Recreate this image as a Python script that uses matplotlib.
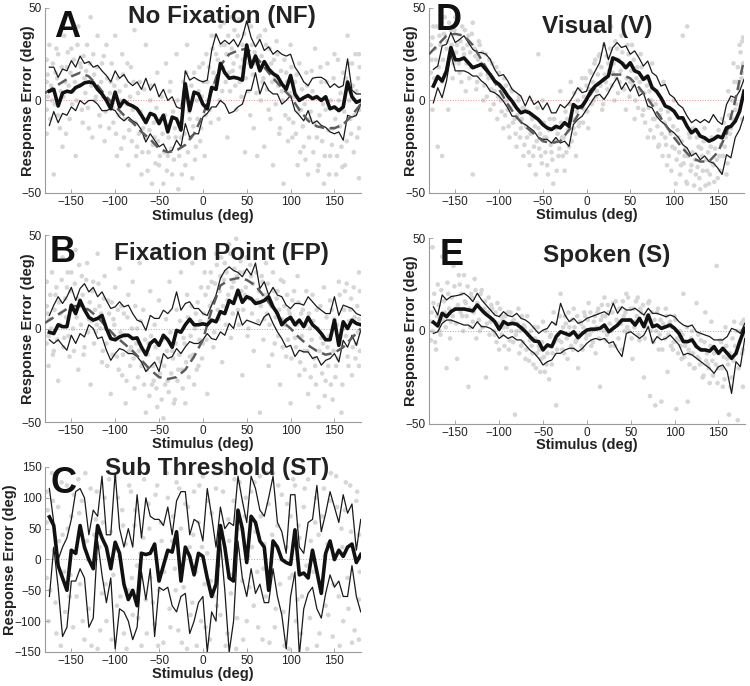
import matplotlib
matplotlib.use('Agg')
import matplotlib.pyplot as plt

plt.rcParams['font.family'] = ['Liberation Sans', 'DejaVu Sans']

# stimulus bins for the running mean / CI lines, and for the model curve
stim_bins = list(range(-175, 181, 5))
model_x = list(range(-180, 181, 10))
x_ticks = [-150, -100, -50, 0, 50, 100, 150]

# ---- A: No Fixation (NF) ----
nf_mean = [5, 6, -3, 4, 5, 4.5, 7, 8, 9.5, 10, 9.5, 6,
           3.5, 0, -4.5, 4.5, -3.5, 0, -2, -3, -4.5, -8, -12, -7,
           -8, -12.5, -8, -17, -9, -10, -16, 9, -5.5, 4.5, 3.5, -2,
           -4.5, 7, 6, 20, 15, 12, 12.5, 12, 11, 30, 18, 24,
           16, 21, 17, 14.5, 13, 9, 6, 13.5, 3.5, 0, 1.5, 2.7,
           1, 2, 0, 2, -4.5, -3.5, -5.5, -3.5, 10, 2, -1, 0]
nf_upper = [18, 18, 12.5, 17, 16, 21.5, 18, 24, 20, 21, 18, 19,
            16, 13.5, 10, 16, 12, 14, 10, 8, 10, 6, 12, 5.5,
            9, 2, 6, 0, 2, -3.5, -4.5, 16, 11, 12.5, 11, 10,
            11, 27, 36, 30.5, 32.5, 30.5, 33, 29, 34, 43, 34, 29,
            33, 27, 29, 25, 27, 25, 24, 25, 18, 14.5, 10, 8,
            12, 12.5, 12.5, 11, 7, 9, 7, 8, 22.5, 5.5, 3.5, 3.5]
nf_lower = [-13.5, -6, -12, -7, -8, -3.5, -5.5, 0, -2, 0, 0, -2,
            -5.5, -5.5, -4.5, -5.5, -9, -11, -9, -11, -12.5, -16, -22.5, -18,
            -21.5, -25, -23.5, -28, -27, -21.5, -25, -12.5, -20, -18, -18, -9,
            -7, -3.5, -3.5, 0, -2, -7, -6, -3.5, -2, 5.5, 5.5, 15,
            3.5, 10, 5.5, 3.5, 3.5, -2, 0, 2.7, -5.5, -8, -11, -5.5,
            -12.5, -11, -13.5, -14.5, -17, -18, -17, -21.5, -8, -9, -8, -2]
nf_model = [4, 7, 10, 13, 15, 13, 8, 2, -3, -8, -12, -17, -21, -26, -28, -27,
            -24, -18, -8, 5, 19, 25, 27, 28, 24, 18, 12, 7, 2, -5, -11, -14,
            -15, -15, -13, -8, -2]
nf_dots = [(-178, 22), (-178, 10), (-178, -5), (-178, -18), (-175, 30), (-172, 0),
           (-170, -40), (-168, 15), (-165, 25), (-165, -8), (-162, 5), (-160, -25),
           (-158, 35), (-155, 18), (-152, -10), (-150, 28), (-148, 5), (-145, -30),
           (-142, 40), (-140, 20), (-138, -5), (-135, 12), (-132, 30), (-130, -15),
           (-128, 45), (-125, 25), (-122, 2), (-120, 35), (-118, -8), (-115, 20),
           (-112, -22), (-110, 30), (-105, 10), (-102, -12), (-100, 35), (-98, -30),
           (-95, 5), (-92, 25), (-90, -20), (-88, 8), (-85, -35), (-82, 18),
           (-80, -5), (-78, 38), (-75, -25), (-72, 10), (-70, -40), (-68, -15),
           (-65, 30), (-62, -28), (-60, 0), (-58, -45), (-55, -20), (-52, 15),
           (-50, -35), (-48, -10), (-45, -45), (-42, 20), (-40, -30), (-38, 5),
           (-35, -40), (-32, -15), (-30, 25), (-28, -48), (-25, -20), (-22, 10),
           (-20, -35), (-18, 30), (-15, -10), (-12, -42), (-10, 15), (-8, -25),
           (-5, 5), (-2, -15), (0, 20), (2, -30), (5, 10), (8, -5), (10, 35),
           (12, 15), (15, 25), (18, -10), (20, 40), (22, 5), (25, 30), (28, -20),
           (30, 15), (32, 45), (35, 20), (38, -5), (40, 35), (42, 10), (45, 30),
           (48, -28), (50, 25), (52, 5), (55, 40), (58, -15), (60, 20), (62, -30),
           (65, 35), (68, 10), (70, -25), (72, 30), (75, -5), (78, 20), (80, -35),
           (82, 12), (85, 25), (88, -15), (90, 5), (92, -45), (95, 15), (98, -10),
           (100, 30), (102, -20), (105, 10), (108, -35), (110, 20), (112, -5),
           (115, -25), (118, 15), (120, -40), (122, -10), (125, 5), (128, 28),
           (130, -20), (132, -35), (135, 10), (138, -45), (140, -5), (142, 20),
           (145, -30), (148, -15), (150, 25), (152, -40), (155, 0), (158, -25),
           (160, 15), (162, -35), (165, 35), (168, -10), (170, 20), (172, -28),
           (175, 5), (178, -42), (178, 25), (178, -15),
           (-177, 2), (-177, 14), (-174, -10), (-173, 8), (-171, 20), (-169, -2),
           (-167, 28), (-166, 12), (-163, -15), (-161, 18), (-159, 2), (-157, 10),
           (-156, -18), (-154, 26), (-153, 8), (-151, 15), (-149, -2), (-147, 22),
           (-146, 10), (-144, 0), (-143, 30), (-141, 8), (-139, 18), (-137, -12),
           (-136, 24), (-134, 4), (-133, 16), (-131, -4), (-129, 20), (-127, 8),
           (-126, -20), (-124, 14), (-123, 0), (-121, 18), (-119, 6), (-117, -14),
           (-116, 10), (-114, 2), (-113, 24), (-111, -6), (-109, 12), (-107, -15),
           (-106, 4), (-104, 20), (-103, -4), (-101, 8), (-99, -18), (-97, 12),
           (-96, -8), (-94, 0), (-93, -26), (-91, 14), (-89, -10), (-87, -2),
           (-86, 20), (-84, -16), (-83, 2), (-81, -22), (-79, 10), (-77, -12),
           (-76, -30), (-74, 4), (-73, -18), (-71, -6), (-69, -28), (-67, 6),
           (-66, -20), (-64, -10), (-63, -38), (-61, -16), (-59, 8), (-57, -24),
           (-56, -12), (-54, -34), (-53, -4), (-51, -22), (-49, -30), (-47, 2),
           (-46, -18), (-44, -28), (-43, -8), (-41, -38), (-39, -20), (-37, 10),
           (-36, -26), (-34, -6), (-33, -32), (-31, -20), (-29, 0), (-27, -30),
           (-26, -12), (-24, -40), (-23, -2), (-21, -18), (-19, 15), (-17, -28),
           (-16, -6), (-14, -20), (-13, 8), (-11, -14), (-9, -32), (-7, 0),
           (-6, -10), (-4, 18), (-3, -22), (-1, 2), (1, 10), (3, -8), (4, 25),
           (6, 0), (7, 18), (9, -12), (11, 28), (13, 8), (14, 35), (16, 12),
           (17, 22), (19, 0), (21, 30), (23, 18), (24, 42), (26, 10), (27, 25),
           (29, 35), (31, 5), (33, 28), (34, 16), (36, 38), (37, 8), (39, 24),
           (41, 44), (43, 18), (44, 2), (46, 22), (47, 36), (49, 12), (51, 42),
           (53, 20), (54, -8), (56, 30), (57, 14), (59, 26), (61, 4), (63, 34),
           (64, 18), (66, 0), (67, 24), (69, 12), (71, 38), (73, 6), (74, 18),
           (76, 28), (77, -10), (79, 10), (81, 22), (83, -2), (84, 32), (86, 8),
           (87, -18), (89, 16), (91, 0), (93, 22), (94, -8), (96, 10), (97, -22),
           (99, 4), (101, 18), (103, -12), (104, 2), (106, -18), (107, 14),
           (109, -6), (111, -28), (113, 6), (114, -14), (116, -2), (117, -32),
           (119, 8), (121, -20), (123, -6), (124, 16), (126, -28), (127, -12),
           (129, 2), (131, -38), (133, -8), (134, 18), (136, -22), (137, -2),
           (139, -30), (141, 10), (143, -16), (144, -40), (146, 0), (147, -24),
           (149, 12), (151, -10), (153, -30), (154, 22), (156, -14), (157, 4),
           (159, -36), (161, -6), (163, 12), (164, -22), (166, 20), (167, 0),
           (169, -18), (171, 8), (173, -8), (174, 25), (176, -20), (177, 12),
           (179, -5), (179, 18)]

# ---- B: Fixation Point (FP) ----
fp_mean = [-2, -2.7, 2, 1, 1, 12.5, 8, 15, 10, 6, 4.5, 5.4,
           7, 0, -5.4, -6, -4.5, -3.6, -3.6, -5.4, -5, -10, -14, -8,
           -6, -9, -3.6, -6, -10, -1, -2, 2, 5, 2, 2, 2.5,
           2, 4.5, 3.6, 9, 8, 15, 13.4, 20.5, 14, 17, 16, 13.4,
           14, 15, 17, 11.6, 8, 2, 4.5, 6, 2, 4.5, 1, 6,
           2, 0, -2.7, -6, -6, 4.5, -9, 3.6, 0, 4.5, 2.7, 2]
fp_upper = [7, 12.5, 17, 13.4, 17, 22, 15, 21.4, 24, 19.6, 22, 17,
            19.6, 15, 10.7, 11.6, 14.3, 11.6, 12.5, 8, 4.5, 3.6, -1, 7,
            5.4, 5.4, 9.8, 8, 10.7, 19.6, 9.8, 13.4, 14.3, 10.7, 10.7, 8,
            7, 12.5, 17.9, 26.8, 31, 33, 31, 30, 27.7, 32, 28.6, 35,
            21.4, 25, 17.9, 22, 17.9, 17, 12.5, 10.7, 13.4, 13.4, 12.5, 17,
            14.3, 11.6, 9.8, 8, 8, 17, 7, 12.5, 11.6, 10.7, 8, 7]
fp_lower = [-6, -8, -6, -9, -11.6, -3.6, -8, -2.7, -4.5, 2, 0, -5.4,
            -4.5, -11.6, -17, -13.4, -10.7, -11.6, -13.4, -13.4, -15, -17.9, -23, -20.5,
            -17.9, -23, -13.4, -16, -15, -10.7, -13.4, -9.8, -7, -8, -8, -6,
            -2.7, -5.4, -6, -1.8, -3.6, 2.7, 0, 9, 1.8, 4.5, 3.6, 2.7,
            1.8, 6.3, 8, 2.7, -1.8, -5.4, -10, -9, -15, -11.6, -12.5, -12.5,
            -16, -15, -19.6, -17, -16, -13.4, -17.9, -6.3, -10, -3.6, -9, -1]
fp_model = [3, 6, 9, 12, 12, 10, 6, 1, -4, -8, -12, -17, -22, -26, -27, -26,
            -22, -15, -6, 10, 23, 26, 27, 26, 23, 17, 11, 4, 0, -5, -9, -12,
            -14, -13, -10, -5, 0]
fp_dots = [(-178, 12), (-178, -8), (-178, 25), (-176, -20), (-175, 5), (-172, 30),
           (-170, -12), (-168, 18), (-165, -28), (-162, 8), (-160, 38), (-158, -5),
           (-155, 22), (-152, -15), (-150, 30), (-148, 0), (-145, 42), (-142, -22),
           (-140, 15), (-138, 28), (-135, -10), (-132, 35), (-130, 5), (-128, -30),
           (-125, 25), (-122, -2), (-120, 40), (-118, 12), (-115, -18), (-112, 28),
           (-110, -8), (-108, 15), (-105, -35), (-102, 5), (-100, 22), (-98, -15),
           (-95, 32), (-92, -25), (-90, 8), (-88, -40), (-85, 18), (-82, -10),
           (-80, 25), (-78, -32), (-75, 0), (-72, 35), (-70, -20), (-68, 10),
           (-65, -45), (-62, -8), (-60, 20), (-58, -30), (-55, 2), (-52, -42),
           (-50, 15), (-48, -18), (-45, -48), (-42, 5), (-40, -28), (-38, 25),
           (-35, -12), (-32, -38), (-30, 10), (-28, -22), (-25, 30), (-22, -5),
           (-20, -40), (-18, 18), (-15, -15), (-12, 35), (-10, -30), (-8, 8),
           (-5, -20), (-2, 22), (0, -8), (2, 30), (5, -35), (8, 12), (10, 25),
           (12, -10), (15, 40), (18, 5), (20, 28), (22, -18), (25, 35), (28, 15),
           (30, 45), (32, -5), (35, 25), (38, 48), (40, 10), (42, 30), (45, -25),
           (48, 18), (50, 38), (52, 0), (55, 28), (58, -12), (60, 42), (62, 15),
           (65, -45), (68, 25), (70, 5), (72, 35), (75, -20), (78, 12), (80, 30),
           (82, -8), (85, 20), (88, -30), (90, 5), (92, 25), (95, -15), (98, 10),
           (100, -40), (102, 15), (105, -5), (108, 28), (110, -25), (112, 8),
           (115, -12), (118, 20), (120, -35), (122, 0), (125, 18), (128, -20),
           (130, 10), (132, -42), (135, -5), (138, 22), (140, -28), (142, -10),
           (145, 15), (148, -38), (150, 5), (152, -20), (155, 25), (158, -45),
           (160, 0), (162, 20), (165, -15), (168, 10), (170, -25), (172, 22),
           (175, -8), (178, 30), (178, -20), (178, 5),
           (-177, 8), (-176, -4), (-174, 18), (-173, 0), (-171, -14), (-169, 10),
           (-167, 22), (-166, -6), (-164, 14), (-163, 2), (-161, 26), (-159, -10),
           (-157, 16), (-156, 6), (-154, 30), (-153, -4), (-151, 20), (-149, 10),
           (-147, -12), (-146, 24), (-144, 6), (-143, 16), (-141, 34), (-139, 2),
           (-137, 18), (-136, -14), (-134, 10), (-133, 26), (-131, -2), (-129, 14),
           (-127, 4), (-126, 20), (-124, -8), (-123, 10), (-121, 2), (-119, 24),
           (-117, 0), (-116, 8), (-114, -12), (-113, 16), (-111, 0), (-109, -20),
           (-107, 8), (-106, -4), (-104, 14), (-103, -14), (-101, 2), (-99, -6),
           (-97, 10), (-96, -22), (-94, -2), (-93, 12), (-91, -14), (-89, -4),
           (-87, -28), (-86, 6), (-84, -12), (-83, -20), (-81, 0), (-79, -16),
           (-77, 12), (-76, -8), (-74, -26), (-73, -12), (-71, 4), (-69, -18),
           (-67, -30), (-66, -6), (-64, -22), (-63, -14), (-61, -36), (-59, -4),
           (-57, -20), (-56, -28), (-54, -10), (-53, -32), (-51, -16), (-49, -24),
           (-47, -38), (-46, -6), (-44, -20), (-43, -30), (-41, -12), (-39, -34),
           (-37, -2), (-36, -24), (-34, -16), (-33, -40), (-31, -8), (-29, -28),
           (-27, -14), (-26, 4), (-24, -22), (-23, -32), (-21, -8), (-19, -18),
           (-17, 6), (-16, -26), (-14, -4), (-13, 12), (-11, -14), (-9, 0),
           (-7, -22), (-6, 14), (-4, -6), (-3, 4), (-1, -16), (1, 8), (3, 18),
           (4, -6), (6, 22), (7, 4), (9, 30), (11, 14), (13, -2), (14, 24),
           (16, 34), (17, 10), (19, 20), (21, 38), (23, 12), (24, 26), (26, 2),
           (27, 30), (29, 18), (31, 40), (33, 22), (34, 8), (36, 32), (37, 16),
           (39, 28), (41, 2), (43, 36), (44, 20), (46, 10), (47, 30), (49, 22),
           (51, -4), (53, 16), (54, 34), (56, 8), (57, 24), (59, 14), (61, 30),
           (63, 4), (64, 20), (66, 12), (67, 28), (69, -6), (71, 18), (73, 8),
           (74, 24), (76, 2), (77, 14), (79, -14), (81, 20), (83, 6), (84, 16),
           (86, -4), (87, 10), (89, 26), (91, -10), (93, 12), (94, 2), (96, 18),
           (97, -6), (99, 8), (101, -16), (103, 4), (104, 20), (106, -10),
           (107, 2), (109, 14), (111, -18), (113, -4), (114, 10), (116, -22),
           (117, 2), (119, -12), (121, 8), (123, -26), (124, -6), (126, 4),
           (127, -16), (129, -30), (131, 0), (133, -12), (134, 12), (136, -24),
           (137, -8), (139, -36), (141, 6), (143, -20), (144, -4), (146, -30),
           (147, 10), (149, -12), (151, -26), (153, 2), (154, -16), (156, 18),
           (157, -8), (159, -30), (161, 10), (163, -4), (164, 24), (166, -20),
           (167, 4), (169, 16), (171, -10), (173, 6), (174, -16), (176, 12),
           (177, -2), (179, 20), (179, -12)]

# ---- C: Sub Threshold (ST) ----
st_mean = [69, 55, -10, -30, -50, 15, 10, 55, 20, 0, -15, 55,
           35, 20, -15, 28, 10, -40, -65, -50, -75, 10, 8, 10,
           25, -35, -10, 15, 12, 45, -35, 20, 5, -25, 10, 5,
           -30, -60, -40, 55, 20, -30, -35, 80, 50, -5, 70, 60,
           30, 20, -50, 30, 20, 0, -5, -8, 48, -25, -22, -30,
           15, -20, -55, 10, 30, 0, 15, 5, 20, 25, -5, 8]
st_upper = [115, 60, 0, 20, 35, 65, 110, 115, 100, 40, 80, 70,
            135, 40, 40, 140, 50, 20, 50, 20, 105, 35, 100, 70,
            65, 65, 55, 85, 40, 95, 110, 110, 40, 65, 60, 30,
            115, 70, 20, 85, 50, 60, 55, 135, 95, 60, 135, 115,
            80, 70, 100, 135, 60, 45, 10, 105, 105, 20, 10, 60,
            65, 120, 45, 75, 110, 85, 60, 105, 75, 90, 15, 65]
st_lower = [-60, 20, -45, -125, -110, -35, -35, -15, -30, -110, -95, 30,
            -25, -70, -30, -145, -80, -85, -100, -130, -110, -20, -65, -15,
            -125, -45, -50, -45, -75, -85, -60, -55, -120, -100, -70, -60,
            -150, -85, -100, 30, -50, -150, -100, 30, -30, -60, -15, -55,
            -40, -70, -70, -15, -60, -90, -145, -60, -20, -155, -80, -55,
            -45, -80, -95, -55, -25, -45, -35, -60, -60, -10, -60, -85]
st_dots = [(-178, 110), (-178, 60), (-178, -30), (-176, -100), (-172, 140), (-170, 15),
           (-168, -70), (-165, 85), (-162, -140), (-160, 40), (-158, -20), (-155, 120),
           (-152, -60), (-150, 70), (-148, -110), (-145, 10), (-142, 130), (-140, -40),
           (-138, 95), (-135, -130), (-132, 30), (-130, -80), (-128, 115), (-125, -10),
           (-122, 65), (-120, -145), (-118, 20), (-115, -55), (-112, 100), (-110, -100),
           (-105, 45), (-102, -25), (-100, 135), (-98, -75), (-95, 5), (-92, 80),
           (-90, -120), (-88, 25), (-85, -50), (-82, 110), (-80, -90), (-78, 55),
           (-75, -10), (-72, 140), (-70, -140), (-68, 35), (-65, -65), (-62, 90),
           (-60, -30), (-58, 15), (-55, -105), (-52, 120), (-50, -50), (-48, 60),
           (-45, -135), (-42, 5), (-40, 100), (-38, -80), (-35, 30), (-32, -15),
           (-30, 125), (-28, -115), (-25, 50), (-22, -45), (-20, 90), (-18, -145),
           (-15, 20), (-12, -70), (-10, 110), (-8, -20), (-5, 60), (-2, -100),
           (0, 135), (2, -40), (5, 10), (8, -130), (10, 75), (12, -60), (15, 115),
           (18, -10), (20, -90), (22, 45), (25, 140), (28, -120), (30, 30), (32, -55),
           (35, 95), (38, -145), (40, 15), (42, 125), (45, -35), (48, 70), (50, -100),
           (52, 5), (55, 110), (58, -75), (60, 45), (62, -20), (65, 135), (68, -130),
           (70, 25), (72, -60), (75, 90), (78, -5), (80, 140), (82, -110), (85, 55),
           (88, -40), (90, 105), (92, -85), (95, 20), (98, -145), (100, 70),
           (102, -25), (105, 120), (108, -65), (110, 35), (112, -120), (115, 85),
           (118, -10), (120, 130), (122, -95), (125, 10), (128, 60), (130, -140),
           (132, 40), (135, -50), (138, 115), (140, -75), (142, 25), (145, 95),
           (148, -125), (150, 0), (152, 135), (155, -60), (158, 50), (160, -100),
           (162, 80), (165, -30), (168, 120), (170, -135), (172, 15), (175, 95),
           (178, -65), (178, 40), (178, -130),
           (-177, 80), (-174, -50), (-171, 95), (-167, -120), (-164, 30), (-161, 125),
           (-157, -85), (-154, 50), (-151, -25), (-147, 105), (-144, -60), (-141, 75),
           (-137, -100), (-134, 140), (-131, 0), (-127, -140), (-124, 40), (-121, 110),
           (-117, -115), (-114, 60), (-111, -40), (-107, 130), (-104, -130), (-101, 15),
           (-97, 100), (-94, -60), (-91, 55), (-87, -145), (-84, 120), (-81, -30),
           (-77, 80), (-74, -95), (-71, 10), (-67, 130), (-64, -120), (-61, 50),
           (-57, -70), (-54, 105), (-51, -140), (-47, 30), (-44, -20), (-41, 140),
           (-37, -110), (-34, 70), (-31, -50), (-27, 115), (-24, -135), (-21, 0),
           (-17, 85), (-14, -90), (-11, 40), (-7, -140), (-4, 120), (-1, 20),
           (3, -110), (6, 95), (9, -35), (13, 140), (16, -75), (19, 5), (23, 110),
           (26, -140), (29, 65), (33, -25), (36, 130), (39, -95), (43, 50),
           (46, -130), (49, 100), (53, -45), (56, 20), (59, 125), (63, -110),
           (66, 70), (69, -15), (73, 140), (76, -135), (79, 40), (83, -80),
           (86, 120), (89, 0), (93, -140), (96, 90), (99, -30), (103, 130),
           (106, -100), (109, 55), (113, -60), (116, 115), (119, -145), (123, 30),
           (126, -20), (129, 100), (133, -120), (136, 70), (139, 5), (143, -90),
           (146, 140), (149, -40), (153, 85), (156, -140), (159, 20), (163, 125),
           (166, -80), (169, 45), (173, -115), (176, 110), (179, -20)]

# ---- D: Visual (V) ----
v_mean = [7.8, 13, 10.5, 16, 28.6, 22, 22, 23, 20.4, 17.7, 18.6, 19.5,
          16.8, 14, 10.5, 8.7, 6, 2.4, -0.4, -4, -6.7, -5.8, -6.7, -8.5,
          -10.3, -13, -14.8, -15.7, -14, -14.8, -12, -14, -2.2, -4, -3, 0.5,
          5, 7.8, 9.6, 11.4, 13.2, 23, 22, 20.4, 17.7, 20.4, 16, 15,
          11.4, 13.2, 6.9, 5, 1.5, -3, -4, -5.8, -9.4, -9.4, -14, -17.5,
          -15.7, -19.3, -20.2, -22, -21, -19.3, -20.2, -14.8, -14, -11.2, -5.8, 5]
v_upper = [16.8, 18.6, 29.5, 30.4, 36.7, 31.3, 33, 35, 31.3, 27.7, 25.9, 25.9,
           25, 22.2, 16.8, 13.2, 14, 10.5, 6, 4.2, 2.4, -3, 2.4, -2.2,
           -0.4, -5, -1.3, -6.7, -6.7, -2.2, -4, -1.3, 2.4, 6.9, 4.2, 5,
           11.4, 16, 20.4, 31.3, 22, 28.6, 31.3, 28.6, 29.5, 25, 26.8, 23,
           18.6, 21.3, 15, 13.2, 7.8, 8.7, 3.3, 1.5, -2.2, -4, -8.5, -12,
           -10.3, -12, -10.3, -12, -7.6, -11.2, -13, -2.2, 2.4, 1.5, 5, 11.4]
v_lower = [-1.3, 6.9, 1.5, 10.5, 25, 16, 16, 16, 15, 13.2, 13.2, 10.5,
           8.7, 5, 4.2, 2.4, -0.4, -4, -8.5, -8.5, -12, -13, -14.8, -16.6,
           -20, -21, -21, -23, -20, -23, -22, -24.8, -13, -10.3, -8.5, -4.9,
           -1.3, 2.4, 3.3, 0.5, 4.2, 8.7, 12.3, 6, 9.6, 5, 8.7, 2.4,
           4.2, -3, -4, -8.5, -11.2, -13, -15.7, -17.5, -20, -23.9, -25.7, -30,
           -28.4, -32, -30, -33, -33.8, -36.5, -40, -29.3, -31, -20, -15.7, -8.5]
v_model = [25, 30, 35, 36, 35, 30, 22, 14, 6, -2, -9, -14, -18, -22, -23, -22,
           -16, -8, 0, 7, 12, 14, 14, 12, 7, 1, -6, -13, -20, -26, -31, -33,
           -33, -28, -18, 0, 22]
v_dots = [(-178, 30), (-178, 15), (-176, -5), (-175, 40), (-172, 22), (-170, -25),
          (-168, 35), (-165, 10), (-165, -30), (-162, 45), (-160, 28), (-158, -5),
          (-155, 38), (-152, 20), (-150, 45), (-148, 30), (-145, 15), (-142, 40),
          (-140, 25), (-138, 5), (-135, 35), (-132, 18), (-130, 42), (-130, -40),
          (-128, 28), (-125, 10), (-122, 30), (-120, 20), (-118, 0), (-115, 25),
          (-112, 12), (-110, -5), (-108, 20), (-105, 5), (-102, -10), (-100, 15),
          (-98, 0), (-95, -15), (-92, 8), (-90, -5), (-88, -20), (-85, 5),
          (-82, -10), (-80, -25), (-78, 0), (-75, -15), (-72, -30), (-70, -5),
          (-68, -20), (-65, -35), (-62, -10), (-60, -25), (-58, -40), (-55, -15),
          (-55, 25), (-52, -30), (-50, 0), (-48, -20), (-45, -35), (-42, -10),
          (-40, -28), (-38, -45), (-35, -15), (-32, -30), (-30, 5), (-28, -20),
          (-25, -38), (-22, -10), (-20, -25), (-18, 10), (-15, -15), (-12, -30),
          (-10, 0), (-8, -12), (-5, 12), (-2, -5), (0, 8), (2, -15), (5, 15),
          (8, 0), (10, 22), (12, 5), (15, 25), (18, -5), (20, 30), (22, 10),
          (25, 20), (28, 40), (30, 15), (32, 0), (35, 28), (38, 10), (40, 35),
          (42, 20), (45, -5), (48, 25), (50, 10), (52, 30), (55, -10), (58, 18),
          (60, 5), (62, 25), (65, -5), (68, 12), (70, -20), (72, 5), (75, 20),
          (78, -10), (80, 5), (82, -25), (85, -5), (88, 10), (90, -20), (92, -35),
          (95, -10), (98, -25), (100, 0), (102, -45), (105, -20), (108, -35),
          (110, 35), (110, -10), (112, -30), (115, -45), (115, 40), (118, -20),
          (120, -35), (122, -15), (125, -40), (128, -25), (130, -48), (132, -30),
          (135, -15), (138, -38), (140, -45), (142, -25), (145, -35), (148, -20),
          (150, -42), (152, -30), (155, -10), (158, -25), (160, -40), (162, 5),
          (165, -15), (168, 20), (170, -5), (172, 10), (175, 30), (178, 15),
          (178, 32), (178, -10),
          (-177, 22), (-176, 34), (-174, 12), (-173, 28), (-171, 40), (-169, 18),
          (-167, 30), (-166, 46), (-164, 22), (-163, 36), (-161, 14), (-159, 32),
          (-157, 42), (-156, 24), (-154, 30), (-153, 12), (-151, 38), (-149, 26),
          (-147, 46), (-146, 20), (-144, 32), (-143, 10), (-141, 28), (-139, 38),
          (-137, 20), (-136, 30), (-134, 12), (-133, 26), (-131, 36), (-129, 18),
          (-127, 24), (-126, 6), (-124, 22), (-123, 32), (-121, 14), (-119, 26),
          (-117, 8), (-116, 18), (-114, 2), (-113, 14), (-111, 22), (-109, 6),
          (-107, 12), (-106, -2), (-104, 10), (-103, 18), (-101, 2), (-99, 8),
          (-97, -6), (-96, 4), (-94, 12), (-93, -8), (-91, 0), (-89, -14),
          (-87, -4), (-86, 6), (-84, -12), (-83, -2), (-81, -18), (-79, -8),
          (-77, 2), (-76, -20), (-74, -10), (-73, -4), (-71, -24), (-69, -14),
          (-67, -6), (-66, -28), (-64, -18), (-63, -8), (-61, -30), (-59, -14),
          (-57, -22), (-56, -4), (-54, -26), (-53, -18), (-51, -34), (-49, -12),
          (-47, -28), (-46, -20), (-44, -40), (-43, -16), (-41, -24), (-39, -32),
          (-37, -10), (-36, -22), (-34, -38), (-33, -18), (-31, -26), (-29, -12),
          (-27, -30), (-26, -20), (-24, -6), (-23, -28), (-21, -16), (-19, -2),
          (-17, -22), (-16, -10), (-14, 4), (-13, -18), (-11, -6), (-9, -14),
          (-7, 6), (-6, -4), (-4, -12), (-3, 2), (-1, 12), (1, -6), (3, 6),
          (4, 16), (6, -2), (7, 10), (9, 20), (11, 2), (13, 14), (14, 24),
          (16, 8), (17, 18), (19, -2), (21, 14), (23, 24), (24, 6), (26, 16),
          (27, 28), (29, 8), (31, 20), (33, 32), (34, 12), (36, 4), (37, 22),
          (39, 16), (41, 26), (43, 6), (44, 18), (46, 12), (47, 30), (49, 2),
          (51, 16), (53, 8), (54, 22), (56, 0), (57, 12), (59, -4), (61, 10),
          (63, 18), (64, -8), (66, 4), (67, -12), (69, 8), (71, -4), (73, -16),
          (74, 0), (76, -10), (77, -20), (79, -2), (81, -14), (83, -24), (84, -8),
          (86, -18), (87, -30), (89, -12), (91, -24), (93, -6), (94, -30),
          (96, -18), (97, -38), (99, -14), (101, -26), (103, -32), (104, -16),
          (106, -28), (107, -40), (109, -22), (111, -34), (113, -26), (114, -44),
          (116, -30), (117, -18), (119, -38), (121, -28), (123, -46), (124, -32),
          (126, -20), (127, -36), (129, -42), (131, -26), (133, -38), (134, -22),
          (136, -46), (137, -32), (139, -28), (141, -40), (143, -20), (144, -34),
          (146, -44), (147, -26), (149, -32), (151, -16), (153, -38), (154, -24),
          (156, -30), (157, -12), (159, -20), (161, -34), (163, -8), (164, -18),
          (166, 0), (167, -10), (169, 10), (171, -2), (173, 18), (174, 6),
          (176, 26), (177, 12), (179, 34), (179, 20)]

# ---- E: Spoken (S) ----
s_mean = [4.7, 2.7, 9.5, 7.7, 10.4, 11.8, 11.8, 11.8, 11.3, 10.8, 14, 11.3,
          9, 7.2, 5, 0.9, 5, 3.6, 4.1, 3.6, 1.8, -0.4, -3, -5.4,
          -5.7, -10.2, -7.5, -8.4, -3, -0.4, -1.3, -2.2, -0.4, -3.6, -1.3, 0.5,
          1, 1, 1.4, 3.2, -0.4, 1.4, 3.2, 5.9, 5.9, 5.9, 3.2, 6.8,
          2.3, 8.6, 2.3, 3.2, 1.4, 2.3, 3.2, 1.4, -1.3, -5.7, -5.7, -4.8,
          -8.4, -10.2, -10.2, -10.8, -8.4, -12, -9.3, -12, -14.7, -12, -4.8, 1.4]
s_upper = [13, 8.6, 19.4, 16.7, 18.5, 18.9, 19.4, 20.3, 18.5, 15.8, 20.3, 16.7,
           14, 11.3, 8.6, 7.7, 10.4, 8.3, 7.7, 9.5, 6.8, 5.9, 4.1, 1.4,
           -1.3, 0.5, 1.4, 5, 3.2, 14.9, 8.6, 5, 6.8, 4.1, 5, 6.8,
           7.7, 8.6, 9.5, 10.4, 8.6, 14.9, 9.5, 13, 11.3, 11.3, 12.2, 10.4,
           8.6, 12.2, 9.5, 9.5, 8.6, 7.7, 8.6, 7.7, 5, 3.2, 2.3, 3.2,
           -0.4, -1.3, -2.2, -3, -4.8, -4.8, -4.8, -3, 1.4, 0.5, -1.3, 4.1]
s_lower = [-1.3, -0.4, 4.1, 5.9, 5.9, 5, 4.1, 3.2, 3.2, 1.4, 5, 2.3,
           2.3, 1.4, -0.4, -4, -2.2, -4, -3, -4.8, -4.8, -7.5, -10.2, -12,
           -14.7, -18.3, -16.5, -15.6, -12, -12, -10.2, -9.3, -9.3, -11.1, -9.3, -6.6,
           -4.8, -4, -4.8, -4, -6.6, -5.7, -10.2, -13.8, -1.3, -0.4, -2.2, -4,
           -2.2, 2.3, -6.6, -3, -4.8, -4, -2.2, -4.8, -7.5, -12.9, -12, -12.9,
           -14.7, -16.5, -18.3, -20.1, -22.8, -19.2, -18.3, -21.9, -33.6, -16.5, -19.2, -4]
s_dots = [(-178, 5), (-178, -5), (-176, 45), (-175, 15), (-172, -10), (-170, 25),
          (-168, 0), (-165, 40), (-162, 10), (-160, -20), (-158, 20), (-155, 5),
          (-152, 35), (-150, 12), (-148, -15), (-145, 25), (-142, 8), (-140, 30),
          (-138, 15), (-135, -30), (-132, 20), (-130, 5), (-128, 28), (-125, 15),
          (-122, 0), (-120, 22), (-118, 10), (-115, -25), (-112, 18), (-110, 5),
          (-108, 12), (-105, -2), (-102, 15), (-100, -10), (-98, 8), (-95, 2),
          (-92, -20), (-90, 10), (-88, -5), (-85, 5), (-82, -45), (-80, 0),
          (-78, 12), (-75, -8), (-72, 3), (-70, -15), (-68, 8), (-65, -5),
          (-62, -12), (-60, 2), (-58, -20), (-55, -8), (-52, -15), (-50, 5),
          (-48, -22), (-45, -12), (-42, -3), (-40, -18), (-38, 10), (-35, -40),
          (-32, -5), (-30, 20), (-28, -10), (-25, 8), (-22, -15), (-20, 2),
          (-18, -8), (-15, 12), (-12, -5), (-10, -20), (-8, 5), (-5, -10),
          (-2, 8), (0, -2), (2, 15), (5, -8), (8, 5), (10, -12), (12, 10),
          (15, -30), (18, 8), (20, 18), (22, -5), (25, 10), (28, 0), (30, 15),
          (32, -8), (35, 5), (38, 12), (40, -10), (42, 8), (45, 20), (48, 0),
          (50, 12), (52, -15), (55, 5), (58, 18), (60, -5), (62, 10), (65, -25),
          (68, 5), (70, 15), (72, -35), (75, -5), (78, -40), (80, 10), (82, -10),
          (85, -38), (88, 2), (90, 12), (92, -22), (95, 5), (98, -10), (100, 8),
          (102, -42), (105, -5), (108, -15), (110, 20), (112, -8), (115, -38),
          (118, -12), (120, 0), (122, -20), (125, 15), (128, -15), (130, -5),
          (132, -25), (135, 10), (138, -18), (140, -28), (142, 5), (145, -12),
          (148, 35), (150, -20), (152, -5), (155, -30), (158, 2), (160, -15),
          (162, -45), (165, -25), (168, 5), (170, -12), (172, -48), (175, 0),
          (178, -10), (178, 5), (178, -30),
          (-177, 10), (-176, 0), (-174, 20), (-173, -6), (-171, 8), (-169, 14),
          (-167, -2), (-166, 22), (-164, 6), (-163, 16), (-161, 2), (-159, 26),
          (-157, 12), (-156, -4), (-154, 18), (-153, 8), (-151, 24), (-149, 4),
          (-147, 14), (-146, 30), (-144, 10), (-143, 20), (-141, 0), (-139, 16),
          (-137, 8), (-136, 24), (-134, 12), (-133, 2), (-131, 18), (-129, 10),
          (-127, 22), (-126, -4), (-124, 14), (-123, 6), (-121, 20), (-119, 2),
          (-117, 12), (-116, 16), (-114, 4), (-113, 10), (-111, -2), (-109, 14),
          (-107, 6), (-106, 0), (-104, 10), (-103, -6), (-101, 4), (-99, 12),
          (-97, -2), (-96, 6), (-94, -8), (-93, 8), (-91, 2), (-89, -10),
          (-87, 10), (-86, 0), (-84, -6), (-83, 6), (-81, -2), (-79, 4),
          (-77, -12), (-76, 0), (-74, 8), (-73, -6), (-71, 2), (-69, -10),
          (-67, -2), (-66, -16), (-64, 0), (-63, -8), (-61, -18), (-59, -4),
          (-57, -12), (-56, 2), (-54, -10), (-53, -22), (-51, -6), (-49, -14),
          (-47, 0), (-46, -18), (-44, -8), (-43, -26), (-41, -2), (-39, -12),
          (-37, -6), (-36, 4), (-34, -10), (-33, -2), (-31, 8), (-29, -6),
          (-27, 2), (-26, -12), (-24, 4), (-23, -4), (-21, 10), (-19, -2),
          (-17, 6), (-16, -10), (-14, 2), (-13, -6), (-11, 8), (-9, -2),
          (-7, 4), (-6, -8), (-4, 2), (-3, 10), (-1, -4), (1, 6), (3, -2),
          (4, 10), (6, 0), (7, -6), (9, 8), (11, 2), (13, 12), (14, -4),
          (16, 6), (17, 14), (19, 0), (21, 8), (23, -2), (24, 14), (26, 4),
          (27, -8), (29, 10), (31, 2), (33, 16), (34, 6), (36, -4), (37, 12),
          (39, 4), (41, 16), (43, 0), (44, 10), (46, 2), (47, 18), (49, 6),
          (51, -4), (53, 12), (54, 2), (56, 16), (57, 8), (59, -2), (61, 12),
          (63, 4), (64, 14), (66, -4), (67, 8), (69, 2), (71, 16), (73, 0),
          (74, 10), (76, -6), (77, 6), (79, 0), (81, 12), (83, -2), (84, 6),
          (86, -10), (87, 4), (89, -4), (91, 8), (93, -2), (94, 4), (96, -8),
          (97, 2), (99, -6), (101, 6), (103, -4), (104, -12), (106, 0),
          (107, -8), (109, -2), (111, -14), (113, -6), (114, 2), (116, -10),
          (117, -18), (119, -4), (121, -12), (123, -20), (124, -8), (126, -14),
          (127, -2), (129, -18), (131, -10), (133, -24), (134, -6), (136, -16),
          (137, -12), (139, -20), (141, -8), (143, -16), (144, -24), (146, -10),
          (147, -18), (149, -28), (151, -12), (153, -6), (154, -20), (156, -14),
          (157, -26), (159, -8), (161, -18), (163, -12), (164, -30), (166, -4),
          (167, -16), (169, -8), (171, 0), (173, -20), (174, -6), (176, 4),
          (177, -12), (179, 6), (179, -2)]


def draw_panel(fig, rect, letter, title, dots, mean, upper, lower, model,
               ylim, yticks, letter_pos, title_pos, xlab_y, ylab_x):
    ax = fig.add_axes(rect)
    dx = [d[0] for d in dots]
    dy = [d[1] for d in dots]
    ax.scatter(dx, dy, s=11, color='#d6d6d6', edgecolors='none', zorder=1)
    ax.axhline(0, color='#e09090', lw=0.7, ls=':', zorder=2)
    ax.plot(stim_bins, upper, color='#1a1a1a', lw=0.9, zorder=3)
    ax.plot(stim_bins, lower, color='#1a1a1a', lw=0.9, zorder=3)
    if model is not None:
        ax.plot(model_x, model, color='#5c5c5c', lw=1.8, ls=(0, (4, 2.2)), zorder=4)
    ax.plot(stim_bins, mean, color='#111111', lw=2.6, zorder=5)

    ax.set_xlim(-180, 180)
    ax.set_ylim(*ylim)
    ax.set_xticks(x_ticks)
    ax.set_yticks(yticks)
    for side in ['top', 'right']:
        ax.spines[side].set_visible(False)
    for side in ['left', 'bottom']:
        ax.spines[side].set_color('#9a9a9a')
        ax.spines[side].set_linewidth(0.8)
    ax.tick_params(direction='in', length=3, width=0.6, color='#9a9a9a',
                   labelsize=8.5, labelcolor='#222222', pad=2.5)

    ax.set_xlabel('Stimulus (deg)', fontsize=10.5, fontweight='bold', color='#222222')
    ax.set_ylabel('Response Error (deg)', fontsize=10.5, fontweight='bold', color='#222222')
    ax.xaxis.set_label_coords(0.5, xlab_y)
    ax.yaxis.set_label_coords(ylab_x, 0.5)

    ax.text(letter_pos[0], letter_pos[1], letter, transform=ax.transAxes,
            fontsize=26, fontweight='bold', color='#111111', va='baseline', zorder=10)
    ax.text(title_pos[0], title_pos[1], title, transform=ax.transAxes,
            fontsize=17.5, fontweight='bold', color='#222222', ha='center',
            va='baseline', zorder=10)
    return ax


def plot_response_errors():
    fig = plt.figure(figsize=(7.5, 6.86), dpi=100)
    ab_ticks = [-50, 0, 50]

    draw_panel(fig, [0.060, 0.7187, 0.421, 0.2697], 'A', 'No Fixation (NF)',
               nf_dots, nf_mean, nf_upper, nf_lower, nf_model,
               (-50, 50), ab_ticks, (0.03, 0.843), (0.56, 0.919), -0.088, -0.032)
    draw_panel(fig, [0.060, 0.3848, 0.421, 0.2726], 'B', 'Fixation Point (FP)',
               fp_dots, fp_mean, fp_upper, fp_lower, fp_model,
               (-50, 50), ab_ticks, (0.016, 0.856), (0.56, 0.866), -0.078, -0.032)
    draw_panel(fig, [0.060, 0.0496, 0.421, 0.2697], 'C', 'Sub Threshold (ST)',
               st_dots, st_mean, st_upper, st_lower, None,
               (-150, 150), [-150, -100, -50, 0, 50, 100, 150],
               (0.016, 0.86), (0.545, 0.957), -0.082, -0.088)
    draw_panel(fig, [0.572, 0.7187, 0.420, 0.2697], 'D', 'Visual (V)',
               v_dots, v_mean, v_upper, v_lower, v_model,
               (-50, 50), ab_ticks, (0.022, 0.881), (0.533, 0.865), -0.082, -0.035)
    draw_panel(fig, [0.572, 0.382, 0.421, 0.271], 'E', 'Spoken (S)',
               s_dots, s_mean, s_upper, s_lower, None,
               (-50, 50), ab_ticks, (0.035, 0.855), (0.563, 0.871), -0.078, -0.036)

    fig.savefig('out.png', dpi=100)


plot_response_errors()
